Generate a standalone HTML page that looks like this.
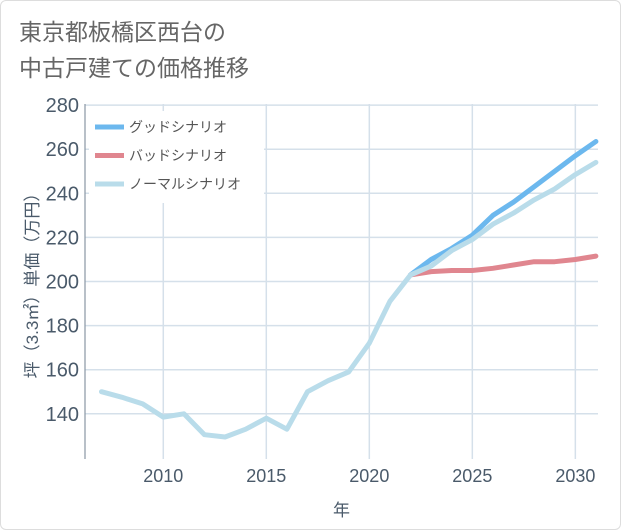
<!DOCTYPE html>
<html><head><meta charset="utf-8"><style>
body{margin:0;background:#fff;font-family:"Liberation Sans","Noto Sans CJK JP",sans-serif;}
#wrap{position:relative;width:619px;height:528px;border:1px solid #ddd;border-radius:6px;overflow:hidden;background:#fff}
#title{position:absolute;left:18px;top:13px;font-size:23px;line-height:36px;color:#666;}
</style></head><body>
<div id="wrap">
<div id="title">東京都板橋区西台の<br>中古戸建ての価格推移</div>
<svg id="svg" width="621" height="530" style="position:absolute;left:0;top:0"></svg>
</div>
<script>
const years=[2007,2008,2009,2010,2011,2012,2013,2014,2015,2016,2017,2018,2019,2020,2021,2022,2023,2024,2025,2026,2027,2028,2029,2030,2031];
const normal=[150,147.5,144.5,138.5,140,130.5,129.5,133,138,133,150,155,159,172,191,203,207,214,219,226,231,237,242,248.5,254];
const goodYears=[2022,2023,2024,2025,2026,2027,2028,2029,2030,2031];
const good=[203,210,215,221,230,236,243,250,257,263.5];
const bad=[203,204.5,205,205,206,207.5,209,209,210,211.5];
const yTicks=[140,160,180,200,220,240,260,280];
const xTicks=[2010,2015,2020,2025,2030];
const L=84,R=597,T=103,B=458;
const X0=2006.2,X1=2031.1,Y0=119.5,Y1=280.5;
const xs=v=>L+(v-X0)/(X1-X0)*(R-L);
const ys=v=>B-(v-Y0)/(Y1-Y0)*(B-T);
const svg=document.getElementById('svg');
const NS='http://www.w3.org/2000/svg';
function mk(t,a,p){const e=document.createElementNS(NS,t);for(const k in a)e.setAttribute(k,a[k]);(p||svg).appendChild(e);return e;}
yTicks.forEach(v=>{
 const g=mk('line',{x1:L,x2:R,y1:ys(v),y2:ys(v),stroke:'#d5e0ea','stroke-width':1.5});
 
 
 const t=mk('text',{x:L-6,y:ys(v)+7,'text-anchor':'end','font-size':20,fill:'#4a5a6a'});
 t.textContent=v;
 
 
});
xTicks.forEach(v=>{
 const g=mk('line',{x1:xs(v),x2:xs(v),y1:T,y2:B,stroke:'#d5e0ea','stroke-width':1.5});
 
 
 const t=mk('text',{x:xs(v),y:B+23,'text-anchor':'middle','font-size':18,fill:'#4a5a6a'});
 t.textContent=v;
 
 
});
const ax=mk('path',{d:`M${L},${T}V${B}`,stroke:'#8a96a3','stroke-width':1.2,fill:'none'});


function line(xv,yv,color,name){
 const d=xv.map((x,i)=>(i?'L':'M')+xs(x).toFixed(1)+','+ys(yv[i]).toFixed(1)).join('');
 const p=mk('path',{d,stroke:color,'stroke-width':5,fill:'none','stroke-linejoin':'round','stroke-linecap':'round'});
 
 
}
line(goodYears,bad,'#e0868f','bad-scenario-line');
line(goodYears,good,'#6cb8ee','good-scenario-line');
line(years,normal,'#b9dcea','normal-scenario-line');
const lg=mk('rect',{x:88,y:110,width:175,height:92,fill:'#fff'});


[['グッドシナリオ','#6cb8ee'],['バッドシナリオ','#e0868f'],['ノーマルシナリオ','#b9dcea']].forEach((e,i)=>{
 const y=126+i*28.5;
 const s=mk('line',{x1:94,x2:123,y1:y,y2:y,stroke:e[1],'stroke-width':5});
 
 
 const t=mk('text',{x:128,y:y+5,'font-size':14,fill:'#555'});
 t.textContent=e[0];
 
 
});
const yt=mk('text',{x:0,y:0,'font-size':17,fill:'#4a5a6a','text-anchor':'middle',transform:`translate(37,${(T+B)/2}) rotate(-90)`});
yt.textContent='坪（3.3㎡）単価（万円）';


const xt=mk('text',{x:(L+R)/2,y:515,'font-size':17,fill:'#4a5a6a','text-anchor':'middle'});
xt.textContent='年';


</script>
</body></html>
